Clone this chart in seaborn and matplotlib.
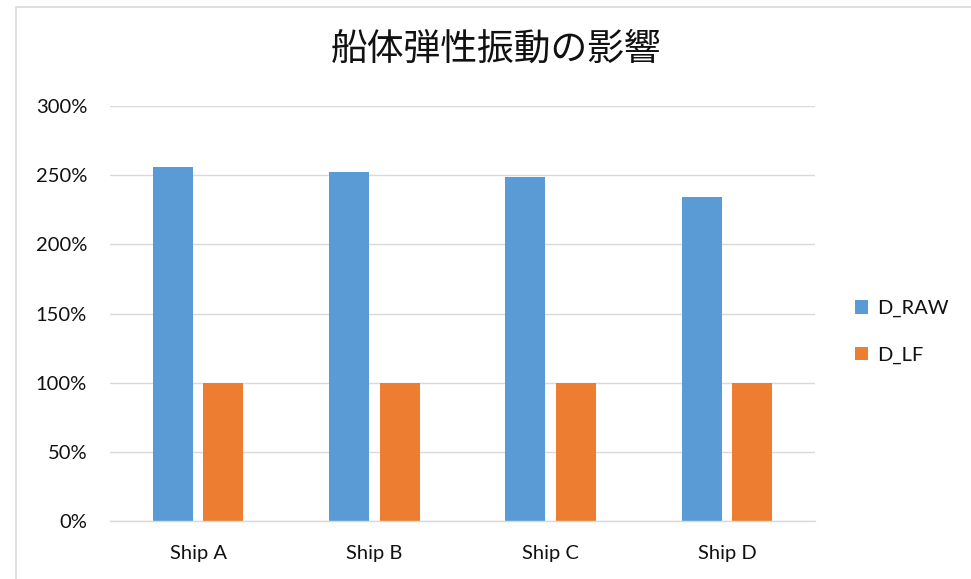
import matplotlib
matplotlib.use("Agg")
import matplotlib.pyplot as plt
import seaborn as sns
import pandas as pd
from matplotlib.patches import Rectangle
from matplotlib.ticker import FuncFormatter

ships = ["Ship A", "Ship B", "Ship C", "Ship D"]
d_raw = [2.56, 2.523, 2.489, 2.344]
d_lf = [1.0, 1.0, 1.0, 1.0]
series = ["D_RAW", "D_LF"]
colors = ["#5B9BD5", "#ED7D31"]
title = "船体弾性振動の影響"

df = pd.DataFrame({
    "ship": ships * 2,
    "value": d_raw + d_lf,
    "series": [series[0]] * len(ships) + [series[1]] * len(ships),
})

sns.set_theme(style="white")
plt.rcParams["font.family"] = ["Lato", "Noto Sans CJK JP", "DejaVu Sans"]

fig = plt.figure(figsize=(9.71, 5.79), dpi=100)
ax = fig.add_axes([110/971, 1-521/579, 705/971, (521-106)/579])

sns.barplot(data=df, x="ship", y="value", hue="series", palette=colors,
            width=0.574, gap=0.21, ax=ax, saturation=1, legend=True,
            edgecolor="none", linewidth=0)

ax.set_ylim(0, 3)
ax.set_xlim(-0.5, 3.5)
ax.set_yticks([0, 0.5, 1, 1.5, 2, 2.5, 3])
ax.yaxis.set_major_formatter(FuncFormatter(lambda v, p: f"{v*100:.0f}%"))
ax.grid(axis="y", color="#d9d9d9", linewidth=1)
ax.set_axisbelow(True)
for s in ["top", "right", "left"]:
    ax.spines[s].set_visible(False)
ax.spines["bottom"].set_color("#d9d9d9")
ax.spines["bottom"].set_linewidth(1)
ax.tick_params(axis="both", length=0, labelsize=14.5, colors="#111111")
ax.tick_params(axis="x", pad=17)
ax.tick_params(axis="y", pad=16.5)
ax.set_xlabel("")
ax.set_ylabel("")

leg = ax.legend(loc="center left", bbox_to_anchor=(837/971, 1-332/579),
                bbox_transform=fig.transFigure, frameon=False, fontsize=14.5,
                handlelength=0.65, handleheight=0.65, handletextpad=0.45,
                labelspacing=1.45)
for t in leg.get_texts():
    t.set_color("#111111")

fig.text(496/971, 1-49/579, title, ha="center", va="center", fontsize=26.5,
         color="#111111", family=["Noto Sans CJK JP", "DejaVu Sans"])

fig.patches.append(Rectangle((16/971, -0.1), 1.2, 1 - 7/579 + 0.1,
                             transform=fig.transFigure, fill=False,
                             edgecolor="#d9d9d9", linewidth=1.2))

fig.savefig("out.png", dpi=100)
